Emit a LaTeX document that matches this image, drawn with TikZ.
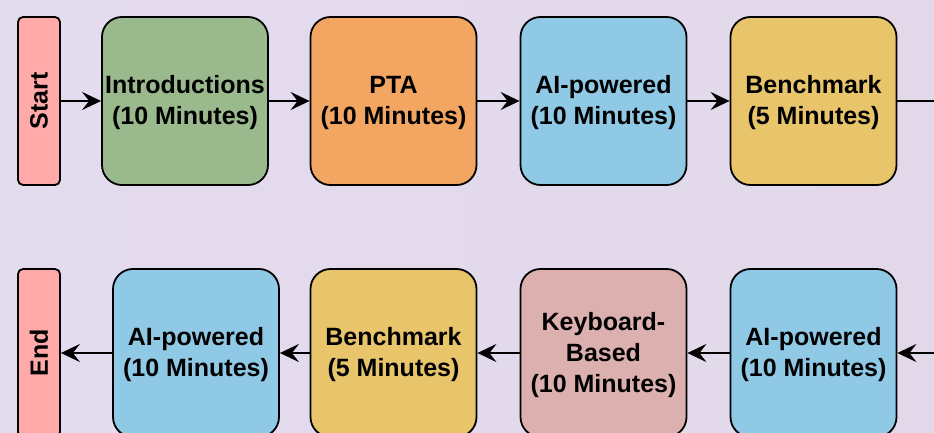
\documentclass[tikz,border=0pt]{standalone}
\usepackage{fontspec}
\setmainfont{Liberation Sans}
\usetikzlibrary{arrows.meta}
\definecolor{bgA}{RGB}{227,220,238}
\definecolor{bgB}{RGB}{226,216,234}
\definecolor{cpink}{RGB}{255,169,169}
\definecolor{cgreen}{RGB}{154,185,141}
\definecolor{corange}{RGB}{243,165,98}
\definecolor{cblue}{RGB}{143,201,229}
\definecolor{cyellow}{RGB}{232,196,106}
\definecolor{crose}{RGB}{221,176,176}
\tikzset{
  stepbox/.style={draw=black, line width=1.8pt, rounded corners=20pt,
    minimum width=166pt, minimum height=168pt, inner sep=0pt},
  steptext/.style={align=center, inner sep=0pt, yshift=-2pt,
    font=\fontsize{25}{31}\selectfont\bfseries},
  endbox/.style={draw=black, line width=1.8pt, rounded corners=5pt, fill=cpink,
    minimum width=42pt, minimum height=168pt, inner sep=0pt},
  endlabel/.style={rotate=90, font=\fontsize{25}{31}\selectfont\bfseries},
  flow/.style={line width=2pt, -{Stealth[length=19pt, width=18pt, inset=7pt]}},
  plain/.style={line width=2pt}
}
\begin{document}
\begin{tikzpicture}[x=1pt, y=-1pt]
\useasboundingbox (0,0) rectangle (934,433);
\clip (0,0) rectangle (934,433);
\shade[left color=bgA, right color=bgB] (0,0) rectangle (934,433);
% top row
\node[endbox] (start) at (39,101) {};
\node[endlabel] (startT) at (start.center) {Start};
\node[stepbox, fill=cgreen] (intro) at (185,101) {};
\node[steptext] (introT) at (intro.center) {Introductions\\(10 Minutes)};
\node[stepbox, fill=corange] (pta) at (393.5,101) {};
\node[steptext] (ptaT) at (pta.center) {PTA\\(10 Minutes)};
\node[stepbox, fill=cblue] (ai1) at (603.5,101) {};
\node[steptext] (ai1T) at (ai1.center) {AI-powered\\(10 Minutes)};
\node[stepbox, fill=cyellow] (bench1) at (813.5,101) {};
\node[steptext] (bench1T) at (bench1.center) {Benchmark\\(5 Minutes)};
\coordinate (r1) at (934,101);
% bottom row
\node[endbox] (end) at (39,353) {};
\node[endlabel] (endT) at (end.center) {End};
\node[stepbox, fill=cblue] (ai2) at (196,353) {};
\node[steptext] (ai2T) at (ai2.center) {AI-powered\\(10 Minutes)};
\node[stepbox, fill=cyellow] (bench2) at (393.5,353) {};
\node[steptext] (bench2T) at (bench2.center) {Benchmark\\(5 Minutes)};
\node[stepbox, fill=crose] (kb) at (603.5,353) {};
\node[steptext] (kbT) at (kb.center) {Keyboard-\\Based\\(10 Minutes)};
\node[stepbox, fill=cblue] (ai3) at (813.5,353) {};
\node[steptext] (ai3T) at (ai3.center) {AI-powered\\(10 Minutes)};
\coordinate (r2) at (934,353);
% connectors
\draw[flow] (start) -- (intro);
\draw[flow] (intro) -- (pta);
\draw[flow] (pta) -- (ai1);
\draw[flow] (ai1) -- (bench1);
\draw[plain] (bench1) -- (r1);
\draw[flow] (r2) -- (ai3);
\draw[flow] (ai3) -- (kb);
\draw[flow] (kb) -- (bench2);
\draw[flow] (bench2) -- (ai2);
\draw[flow] (ai2) -- (end);
\end{tikzpicture}
\end{document}
